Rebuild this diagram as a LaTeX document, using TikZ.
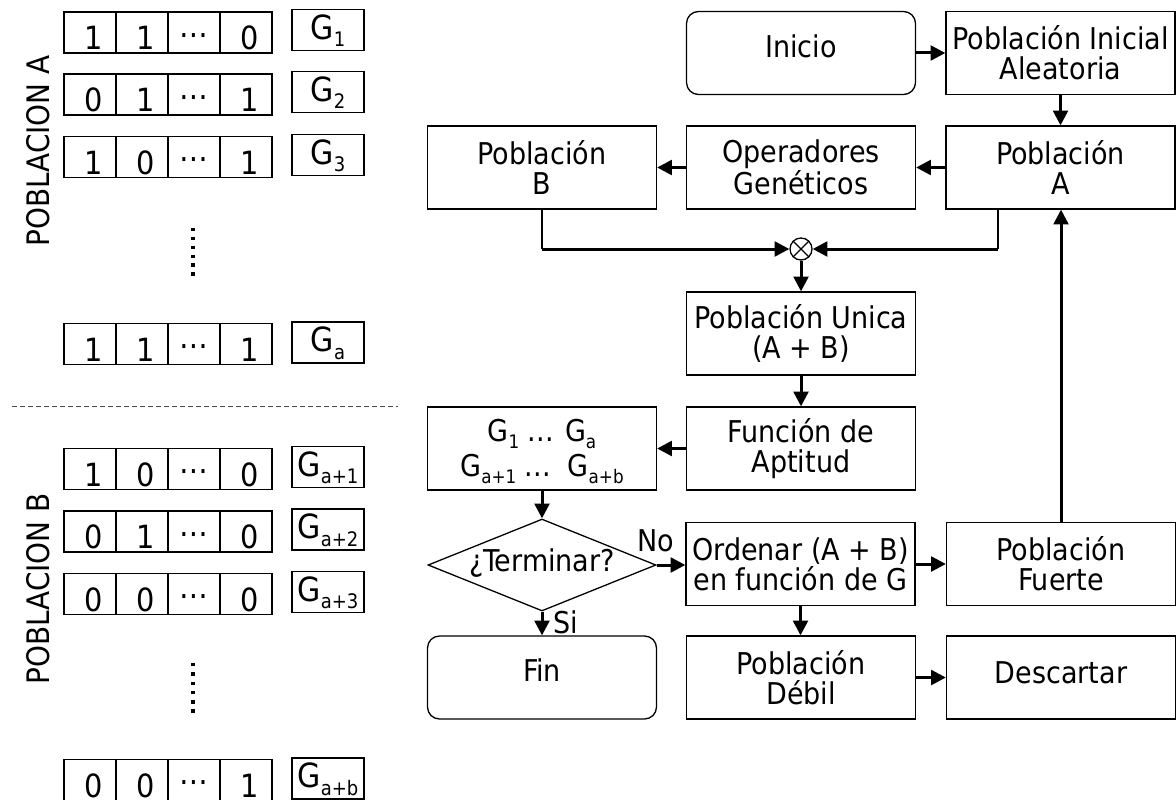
\documentclass[tikz,border=0pt]{standalone}
\usepackage{fontspec}
\setmainfont{DejaVu Sans Condensed}
\usetikzlibrary{arrows.meta,shapes.geometric}
\newlength\px
\setlength\px{0.75pt}
% font sizes
\newcommand\flowfont{\fontsize{22.5pt}{22.5pt}\selectfont}
\newcommand\cellfont{\fontsize{24pt}{26pt}\selectfont}
\newcommand\gfont{\fontsize{25pt}{27pt}\selectfont}
\newcommand\sidefont{\fontsize{23.25pt}{26pt}\selectfont}
% subscripts that do not change the line box
\newcommand\cellsub[1]{\raisebox{-7.5\px}[0pt][0pt]{\fontsize{15pt}{16pt}\selectfont #1}}
\newcommand\flowsub[1]{\raisebox{-7\px}[0pt][0pt]{\fontsize{14pt}{15pt}\selectfont #1}}
% move text vertically without changing the node size
\newcommand\lift[2]{\raisebox{#1\px}[\height][\depth]{#2}}
\newcommand\digitval[1]{\raisebox{-5.5\px}[\height][\depth]{\hspace*{8\px}#1}}
\begin{document}
\begin{tikzpicture}[x=0.75pt,y=-0.75pt,
  box/.style={draw=black, line width=1.3\px, minimum width=229\px, minimum height=83\px,
              inner sep=0pt, align=center, font=\flowfont},
  rbox/.style={box, rounded corners=12\px},
  flow/.style={line width=2.25pt, -{Triangle[length=11pt,width=11pt]}},
  thinline/.style={line width=1.3\px},
  cell/.style={draw=black, line width=1.3\px, minimum width=52\px, minimum height=41\px,
               inner sep=0pt, font=\cellfont},
  gbox/.style={draw=black, line width=1.3\px, minimum width=72\px, minimum height=41\px,
               inner sep=0pt, font=\gfont},
  poplabel/.style={rotate=90, font=\sidefont, inner sep=0pt},
  vdots/.style={line width=3pt},
  lbl/.style={font=\flowfont, inner sep=0pt}
]
\useasboundingbox (0,0) rectangle (1176,799);
\clip (0,0) rectangle (1176,799);

% ---------- chromosome rows ----------
\foreach \r/\yc/\yg/\da/\db/\dd/\g in {
  a1/32.5/30/1/1/0/1,
  a2/94.5/92/0/1/1/2,
  a3/157/155/1/0/1/3,
  aa/344/342.5/1/1/1/a,
  b1/469/467/1/0/0/a+1,
  b2/531.5/529.5/0/1/0/a+2,
  b3/594/592/0/0/0/a+3,
  bb/780/778.5/0/0/1/a+b}
{
  \node[cell] (\r-1) at (90,\yc) {\digitval{\da}};
  \node[cell] (\r-2) at (142,\yc) {\digitval{\db}};
  \node[cell] (\r-3) at (194,\yc) {\lift{-7}{⋯}};
  \node[cell] (\r-4) at (246,\yc) {\digitval{\dd}};
  \node[gbox] (\r-g) at (328,\yg) {\lift{3}{G\cellsub{\g}}};
}

% vertical ellipses
\coordinate (dotsA1) at (193,228);
\coordinate (dotsA2) at (193,276);
\coordinate (dotsB1) at (193,663);
\coordinate (dotsB2) at (193,713);
\draw[vdots, dash pattern=on 2.6pt off 4.05pt] (dotsA1) -- (dotsA2);
\draw[vdots, dash pattern=on 2.6pt off 4.35pt] (dotsB1) -- (dotsB2);

% population labels
\node[poplabel] (labA) at (38,151) {POBLACION A};
\node[poplabel] (labB) at (38,589) {POBLACION B};

% separator
\coordinate (sepL) at (12,406);
\coordinate (sepR) at (398,406);
\draw[line width=0.75pt, black!70, dash pattern=on 3.75pt off 2.25pt] (sepL) -- (sepR);

% ---------- flowchart ----------
\node[rbox] (inicio) at (801,53) {\lift{7}{Inicio}};
\node[box] (pia) at (1060.5,53) {Población Inicial\\Aleatoria};
\node[box] (pa) at (1060.5,167.5) {Población\\A};
\node[box] (og) at (801,167.5) {Operadores\\Genéticos};
\node[box] (pb) at (542,167.5) {Población\\B};
\node[draw=black, circle, line width=1.3\px, minimum size=22\px, inner sep=0pt] (mult) at (801,249) {};
\draw[line width=1.3\px] (mult.north west) -- (mult.south east)
                         (mult.north east) -- (mult.south west);
\node[box] (pu) at (801,333.5) {Población Unica\\(A + B)};
\node[box] (fa) at (801,448.5) {Función de\\Aptitud};
\node[box, font=\fontsize{22.5pt}{26.25pt}\selectfont] (gl) at (542,448.5)
  {G\flowsub{1} ... G\flowsub{a}\\G\flowsub{a+1} ...\ \ G\flowsub{a+b}};
\node[box, shape=diamond, aspect=2.5, minimum width=228\px, minimum height=92\px]
  (term) at (542,565) {\lift{2}{¿Terminar?}};
\node[box] (ord) at (800.5,564) {Ordenar (A + B)\\en función de G};
\node[box] (pf) at (1061,564) {Población\\Fuerte};
\node[rbox] (fin) at (542,677.5) {\lift{7}{Fin}};
\node[box] (pd) at (801,677.5) {Población\\Débil};
\node[box] (desc) at (1061,677.5) {\lift{5}{Descartar}};

\node[lbl] (nolbl) at ([shift={(-1,-24)}]term.east) {No};
\node[lbl] (silbl) at ([shift={(24,11)}]term.south) {Si};

% connectors
\draw[flow] (inicio) -- (pia);
\draw[flow] (pia) -- (pa);
\draw[flow] (pa) -- (og);
\draw[flow] (og) -- (pb);
\draw[thinline] (pb.south) -- (pb.south |- mult.west);
\draw[flow] (pb.south |- mult.west) -- (mult.west);
\draw[thinline] ([shift={(-62.5,0)}]pa.south) -- ([shift={(-62.5,0)}]pa.south |- mult.east);
\draw[flow] ([shift={(-62.5,0)}]pa.south |- mult.east) -- (mult.east);
\draw[flow] (mult) -- (pu);
\draw[flow] (pu) -- (fa);
\draw[flow] (fa) -- (gl);
\draw[flow] (gl) -- (term);
\draw[flow] (term.east) -- (term.east -| ord.west);
\draw[flow] (ord) -- (pf);
\draw[flow] (pf.north) -- (pf.north |- pa.south);
\draw[flow] (ord.south) -- (ord.south |- pd.north);
\draw[flow] (pd) -- (desc);
\draw[flow] (term) -- (fin);
\end{tikzpicture}
\end{document}
